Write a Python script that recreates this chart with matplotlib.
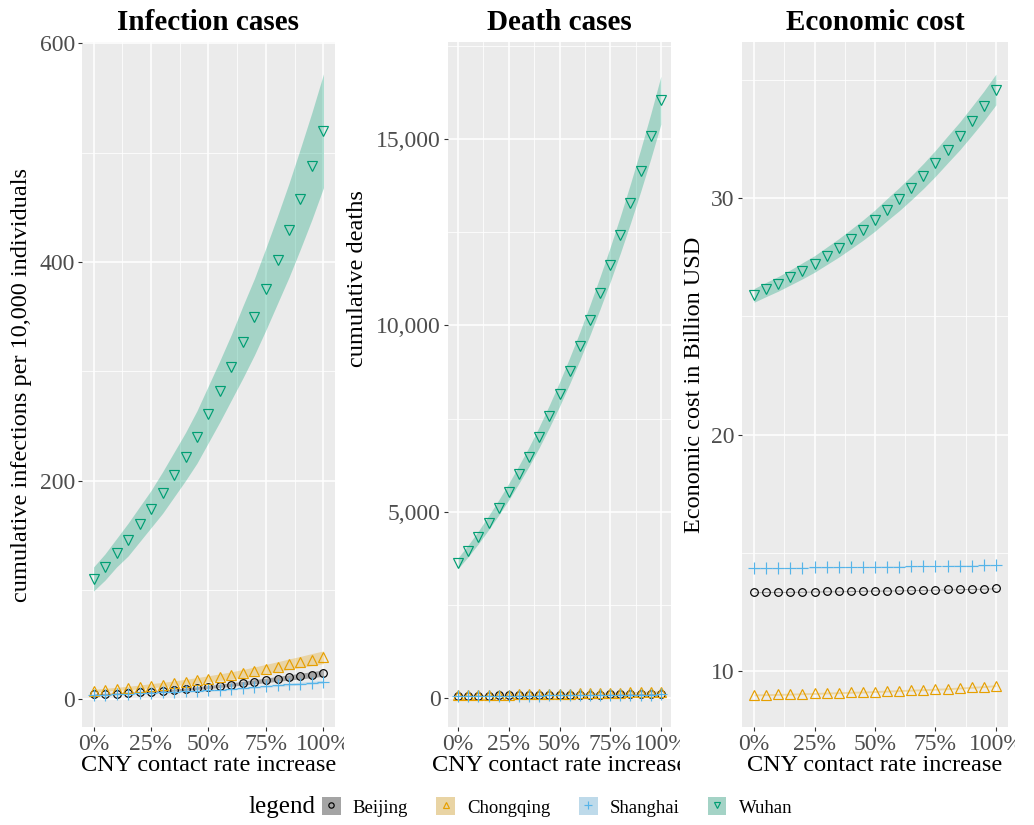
import matplotlib
matplotlib.use("Agg")
import matplotlib.pyplot as plt
from matplotlib.patches import Patch
from matplotlib.lines import Line2D
from matplotlib.legend_handler import HandlerTuple
from matplotlib.transforms import Bbox, TransformedBbox
from matplotlib.ticker import FixedLocator

plt.rcParams['font.family'] = ['Liberation Serif', 'DejaVu Serif']

# ---------------- data ----------------
contact_increase = [0.00, 0.05, 0.10, 0.15, 0.20, 0.25, 0.30, 0.35, 0.40, 0.45, 0.50,
                    0.55, 0.60, 0.65, 0.70, 0.75, 0.80, 0.85, 0.90, 0.95, 1.00]
cities = ["Beijing", "Chongqing", "Shanghai", "Wuhan"]

# Infection cases (per 10,000)
inf_beijing = [4.5, 4.9, 5.3, 5.8, 6.4, 7.0, 7.7, 8.5, 9.3, 10.3, 11.3, 12.4, 13.5, 14.8, 16.1, 17.4, 18.7, 20.0, 21.3, 22.6, 24.0]
inf_beijing_lo = [4.0, 4.3, 4.7, 5.1, 5.6, 6.2, 6.8, 7.5, 8.2, 9.1, 9.9, 10.9, 11.9, 13.0, 14.2, 15.3, 16.5, 17.6, 18.7, 19.9, 21.1]
inf_beijing_hi = [5.0, 5.5, 5.9, 6.5, 7.2, 7.8, 8.6, 9.5, 10.4, 11.5, 12.7, 13.9, 15.1, 16.6, 18.0, 19.5, 20.9, 22.4, 23.9, 25.3, 26.9]
inf_chongqing = [8.0, 8.8, 9.6, 10.4, 11.3, 12.5, 13.5, 14.7, 15.9, 17.3, 18.8, 20.3, 21.9, 23.7, 25.7, 27.8, 29.9, 32.1, 34.2, 36.4, 38.5]
inf_chongqing_lo = [6.8, 7.5, 8.2, 8.8, 9.6, 10.6, 11.5, 12.5, 13.5, 14.7, 16.0, 17.3, 18.6, 20.1, 21.8, 23.6, 25.4, 27.3, 29.1, 30.9, 32.7]
inf_chongqing_hi = [9.2, 10.1, 11.0, 12.0, 13.0, 14.4, 15.5, 16.9, 18.3, 19.9, 21.6, 23.3, 25.2, 27.3, 29.6, 32.0, 34.4, 36.9, 39.3, 41.9, 44.3]
inf_shanghai = [3.7, 4.1, 4.6, 5.0, 5.5, 6.0, 6.5, 6.9, 7.4, 7.8, 8.3, 8.9, 9.6, 10.3, 11.1, 12.0, 12.8, 13.6, 14.4, 15.2, 16.0]
inf_shanghai_lo = [3.3, 3.7, 4.2, 4.6, 5.0, 5.5, 6.0, 6.3, 6.8, 7.2, 7.6, 8.2, 8.8, 9.5, 10.2, 11.0, 11.8, 12.5, 13.2, 14.0, 14.7]
inf_shanghai_hi = [4.0, 4.4, 5.0, 5.4, 5.9, 6.5, 7.0, 7.5, 8.0, 8.4, 9.0, 9.6, 10.4, 11.1, 12.0, 13.0, 13.8, 14.7, 15.6, 16.4, 17.3]
inf_wuhan = [110, 121, 134, 146, 160, 174, 189, 205, 222, 240, 261, 282, 304, 327, 350, 375, 402, 429, 458, 488, 520]
inf_wuhan_lo = [99, 109, 121, 131, 144, 157, 170, 185, 200, 216, 235, 254, 274, 294, 315, 338, 362, 386, 412, 439, 468]
inf_wuhan_hi = [121, 133, 147, 161, 176, 191, 208, 226, 244, 264, 287, 310, 334, 360, 385, 413, 442, 472, 504, 537, 572]

# Death cases
death_beijing = [60, 62, 64, 66, 68, 70, 72, 74, 77, 79, 82, 84, 87, 89, 92, 95, 98, 101, 104, 107, 110]
death_beijing_lo = [51, 53, 54, 56, 58, 60, 61, 63, 65, 67, 70, 71, 74, 76, 78, 81, 83, 86, 88, 91, 94]
death_beijing_hi = [69, 71, 74, 76, 78, 81, 83, 85, 89, 91, 94, 97, 100, 102, 106, 109, 113, 116, 120, 123, 127]
death_chongqing = [75, 78, 81, 84, 88, 91, 95, 99, 103, 107, 111, 116, 121, 126, 131, 137, 143, 149, 155, 162, 170]
death_chongqing_lo = [64, 66, 69, 71, 75, 77, 81, 84, 88, 91, 94, 99, 103, 107, 111, 116, 122, 127, 132, 138, 145]
death_chongqing_hi = [86, 90, 93, 97, 101, 105, 109, 114, 118, 123, 128, 133, 139, 145, 151, 158, 164, 171, 178, 186, 196]
death_shanghai = [55, 56, 58, 59, 61, 62, 64, 65, 67, 69, 70, 72, 74, 76, 78, 80, 83, 85, 88, 91, 95]
death_shanghai_lo = [48, 49, 50, 51, 53, 54, 56, 57, 58, 60, 61, 63, 64, 66, 68, 70, 72, 74, 77, 79, 83]
death_shanghai_hi = [62, 63, 66, 67, 69, 70, 72, 73, 76, 78, 79, 81, 84, 86, 88, 90, 94, 96, 99, 103, 107]
death_wuhan = [3620, 3950, 4310, 4700, 5110, 5540, 6000, 6480, 7000, 7560, 8150, 8780, 9440, 10140, 10870, 11630, 12430, 13270, 14150, 15070, 16040]
death_wuhan_lo = [3475, 3792, 4138, 4512, 4906, 5318, 5760, 6221, 6720, 7258, 7824, 8429, 9062, 9734, 10435, 11165, 11933, 12739, 13584, 14467, 15398]
death_wuhan_hi = [3765, 4108, 4482, 4888, 5314, 5762, 6240, 6739, 7280, 7862, 8476, 9131, 9818, 10546, 11305, 12095, 12927, 13801, 14716, 15673, 16682]

# Economic cost (billion USD)
cost_beijing = [13.33, 13.34, 13.34, 13.35, 13.35, 13.36, 13.37, 13.37, 13.38, 13.39, 13.40, 13.40, 13.41, 13.42, 13.43, 13.44, 13.45, 13.46, 13.47, 13.48, 13.50]
cost_beijing_lo = [13.31, 13.32, 13.32, 13.33, 13.33, 13.34, 13.35, 13.35, 13.36, 13.37, 13.38, 13.38, 13.39, 13.40, 13.41, 13.42, 13.43, 13.44, 13.45, 13.46, 13.48]
cost_beijing_hi = [13.35, 13.36, 13.36, 13.37, 13.37, 13.38, 13.39, 13.39, 13.40, 13.41, 13.42, 13.42, 13.43, 13.44, 13.45, 13.46, 13.47, 13.48, 13.49, 13.50, 13.52]
cost_chongqing = [8.99, 9.00, 9.01, 9.02, 9.04, 9.05, 9.07, 9.08, 9.10, 9.11, 9.13, 9.15, 9.17, 9.19, 9.21, 9.23, 9.25, 9.28, 9.31, 9.34, 9.38]
cost_chongqing_lo = [8.95, 8.96, 8.97, 8.98, 9.00, 9.01, 9.03, 9.04, 9.06, 9.07, 9.09, 9.11, 9.13, 9.15, 9.17, 9.19, 9.21, 9.24, 9.27, 9.30, 9.34]
cost_chongqing_hi = [9.03, 9.04, 9.05, 9.06, 9.08, 9.09, 9.11, 9.12, 9.14, 9.15, 9.17, 9.19, 9.21, 9.23, 9.25, 9.27, 9.29, 9.32, 9.35, 9.38, 9.42]
cost_shanghai = [14.34, 14.35, 14.35, 14.36, 14.37, 14.38, 14.38, 14.39, 14.40, 14.40, 14.41, 14.42, 14.42, 14.43, 14.44, 14.44, 14.45, 14.46, 14.46, 14.47, 14.48]
cost_shanghai_lo = [14.32, 14.33, 14.33, 14.34, 14.35, 14.36, 14.36, 14.37, 14.38, 14.38, 14.39, 14.40, 14.40, 14.41, 14.42, 14.42, 14.43, 14.44, 14.44, 14.45, 14.46]
cost_shanghai_hi = [14.36, 14.37, 14.37, 14.38, 14.39, 14.40, 14.40, 14.41, 14.42, 14.42, 14.43, 14.44, 14.44, 14.45, 14.46, 14.46, 14.47, 14.48, 14.48, 14.49, 14.50]
cost_wuhan = [25.89, 26.14, 26.38, 26.65, 26.93, 27.22, 27.56, 27.90, 28.27, 28.65, 29.06, 29.52, 29.96, 30.44, 30.94, 31.48, 32.06, 32.63, 33.26, 33.90, 34.60]
cost_wuhan_lo = [25.60, 25.84, 26.07, 26.33, 26.59, 26.87, 27.19, 27.51, 27.86, 28.22, 28.61, 29.05, 29.47, 29.93, 30.41, 30.93, 31.49, 32.04, 32.65, 33.27, 33.95]
cost_wuhan_hi = [26.18, 26.44, 26.69, 26.97, 27.27, 27.57, 27.93, 28.29, 28.68, 29.08, 29.51, 29.99, 30.45, 30.95, 31.47, 32.03, 32.63, 33.22, 33.87, 34.53, 35.25]

panel_titles = ["Infection cases", "Death cases", "Economic cost"]
y_labels = ["cumulative infections per 10,000 individuals", "cumulative deaths", "Economic cost in Billion USD"]
x_label = "CNY contact rate increase"
x_ticks = [0, 0.25, 0.5, 0.75, 1.0]
x_tick_labels = ["0%", "25%", "50%", "75%", "100%"]
y_ticks = [[0, 200, 400, 600], [0, 5000, 10000, 15000], [10, 20, 30]]
y_tick_labels = [["0", "200", "400", "600"], ["0", "5,000", "10,000", "15,000"], ["10", "20", "30"]]

# ---------------- styles ----------------
colors = {"Beijing": "#000000", "Chongqing": "#E69F00", "Shanghai": "#56B4E9", "Wuhan": "#009E73"}
markers = {"Beijing": "o", "Chongqing": "^", "Shanghai": "+", "Wuhan": "v"}
msizes = {"Beijing": 5.5, "Chongqing": 7, "Shanghai": 9, "Wuhan": 7}

panels = [
    {"Beijing": (inf_beijing, inf_beijing_lo, inf_beijing_hi),
     "Chongqing": (inf_chongqing, inf_chongqing_lo, inf_chongqing_hi),
     "Shanghai": (inf_shanghai, inf_shanghai_lo, inf_shanghai_hi),
     "Wuhan": (inf_wuhan, inf_wuhan_lo, inf_wuhan_hi)},
    {"Beijing": (death_beijing, death_beijing_lo, death_beijing_hi),
     "Chongqing": (death_chongqing, death_chongqing_lo, death_chongqing_hi),
     "Shanghai": (death_shanghai, death_shanghai_lo, death_shanghai_hi),
     "Wuhan": (death_wuhan, death_wuhan_lo, death_wuhan_hi)},
    {"Beijing": (cost_beijing, cost_beijing_lo, cost_beijing_hi),
     "Chongqing": (cost_chongqing, cost_chongqing_lo, cost_chongqing_hi),
     "Shanghai": (cost_shanghai, cost_shanghai_lo, cost_shanghai_hi),
     "Wuhan": (cost_wuhan, cost_wuhan_lo, cost_wuhan_hi)},
]

W, H = 1034, 825
fig = plt.figure(figsize=(W / 100, H / 100), dpi=100)

# panel rectangles in pixels: left, right, top, bottom
rects = [(82, 335, 42, 727), (448, 671, 42, 727), (742, 1008, 42, 727)]
ylims = [(-25.3, 601.2), (-778, 17603), (7.63, 36.61)]
y_minor = [[100, 300, 500], [2500, 7500, 12500, 17500], [15, 25, 35]]
clip_right = [344, 680, 1015]
ylabel_pos = [(-0.198, 0.5), (-0.359, 0.655), (-0.139, 0.5)]

axes = []
for i in range(3):
    l, r, t, b = rects[i]
    ax = fig.add_axes([l / W, (H - b) / H, (r - l) / W, (b - t) / H])
    axes.append(ax)
    ax.set_facecolor("#EBEBEB")
    for s in ax.spines.values():
        s.set_visible(False)
    ax.set_xlim(-0.05, 1.05)
    ax.set_ylim(*ylims[i])
    ax.xaxis.set_major_locator(FixedLocator(x_ticks))
    ax.xaxis.set_minor_locator(FixedLocator([0.125, 0.375, 0.625, 0.875]))
    ax.set_xticklabels(x_tick_labels)
    ax.yaxis.set_major_locator(FixedLocator(y_ticks[i]))
    ax.yaxis.set_minor_locator(FixedLocator(y_minor[i]))
    ax.set_yticklabels(y_tick_labels[i])
    ax.grid(which="major", color="white", linewidth=1.1)
    ax.grid(which="minor", color="white", linewidth=0.55)
    ax.set_axisbelow(True)
    ax.tick_params(which="major", length=3.2, width=0.8, color="#333333",
                   labelsize=17, labelcolor="#4D4D4D", pad=2)
    ax.tick_params(which="minor", length=0)

    for c in cities:
        v, lo, hi = panels[i][c]
        ax.fill_between(contact_increase, lo, hi, color=colors[c], alpha=0.3, linewidth=0)
    for c in cities:
        v, lo, hi = panels[i][c]
        ax.plot(contact_increase, v, linestyle="none", marker=markers[c],
                markersize=msizes[c], markerfacecolor="none",
                markeredgecolor=colors[c], markeredgewidth=0.85)

    ax.set_title(panel_titles[i], fontsize=21, fontweight="bold", pad=9)
    ax.set_xlabel(x_label, fontsize=17.5, labelpad=0)
    ax.set_ylabel(y_labels[i], fontsize=17.5)
    ax.yaxis.set_label_coords(*ylabel_pos[i])

# legend
fig.text(248 / W, (H - 807) / H, "legend", fontsize=18, ha="left", va="center")
handles = []
for c in cities:
    bg = Patch(facecolor="#EBEBEB", edgecolor="none")
    fg = Patch(facecolor=colors[c], alpha=0.3, edgecolor="none")
    mk = Line2D([], [], linestyle="none", marker=markers[c], markersize=msizes[c] * 0.7,
                markerfacecolor="none", markeredgecolor=colors[c], markeredgewidth=0.85)
    handles.append((bg, fg, mk))
fig.legend(handles, cities, handler_map={tuple: HandlerTuple(ndivide=1, pad=0)},
           loc="center left", bbox_to_anchor=(322 / W, (H - 807) / H), ncol=4,
           frameon=False, fontsize=13.5, handlelength=1.0, handleheight=1.1,
           handletextpad=0.65, columnspacing=1.5, borderaxespad=0, borderpad=0)

fig.canvas.draw()
for i, ax in enumerate(axes):
    cb = TransformedBbox(Bbox.from_extents(0, 0, clip_right[i] / W, 1), fig.transFigure)
    for tk in ax.xaxis.get_major_ticks():
        tk.label1.set_clip_on(True)
        tk.label1.set_clip_box(cb)
    ax.xaxis.label.set_clip_on(True)
    ax.xaxis.label.set_clip_box(cb)

fig.savefig("out.png", dpi=100)
